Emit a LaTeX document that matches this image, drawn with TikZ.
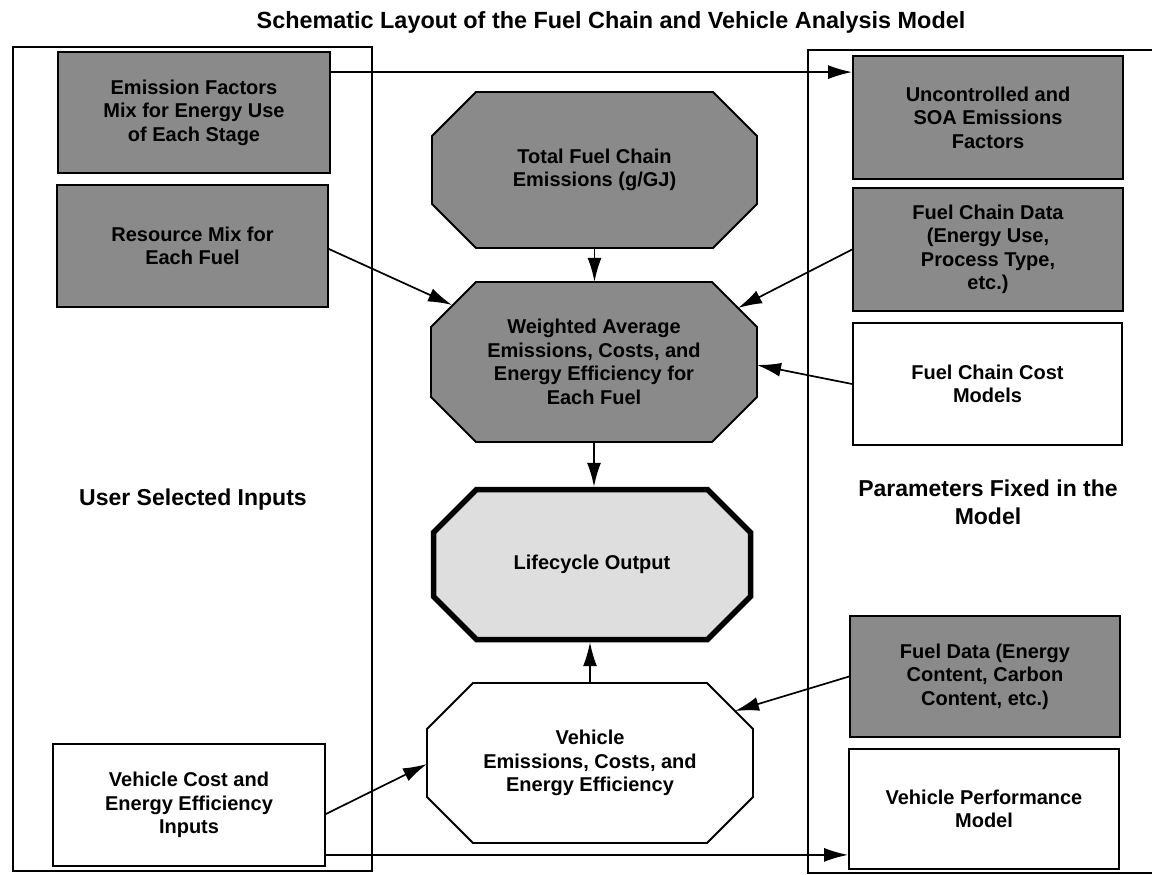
\documentclass[tikz,border=0pt]{standalone}
\usepackage{fontspec}
\setmainfont{Liberation Sans}
\usetikzlibrary{arrows.meta,calc}
\definecolor{dk}{RGB}{138,138,138}
\definecolor{lt}{RGB}{222,222,222}
% octagon: x1,y1,x2,y2,cut,style
\newcommand\octa[6]{%
  \draw[#6] (#1+#5,#2) -- (#3-#5,#2) -- (#3,#2+#5) -- (#3,#4-#5) -- (#3-#5,#4) -- (#1+#5,#4) -- (#1,#4-#5) -- (#1,#2+#5) -- cycle;}
\begin{document}
\begin{tikzpicture}[x=1pt,y=-1pt,
  box/.style={draw=black, line width=1.8pt, rectangle, inner sep=0pt, align=center,
    font=\fontsize{20}{23.5}\selectfont\bfseries},
  darkbox/.style={box, fill=dk},
  whitebox/.style={box, fill=white},
  octlbl/.style={rectangle, inner sep=0pt, align=center, font=\fontsize{20}{23.5}\selectfont\bfseries},
  sidelbl/.style={inner sep=0pt, align=center, font=\fontsize{23}{27.6}\selectfont\bfseries},
  arr/.style={-{Latex[length=24pt,width=14pt]}, line width=1.7pt},
  framel/.style={line width=1.7pt},
  octd/.style={draw=black, line width=1.8pt, fill=dk},
  octw/.style={draw=black, line width=1.8pt, fill=white},
  octl/.style={draw=black, line width=5.5pt, fill=lt}]
\useasboundingbox (0,0) rectangle (1152,875);

% title
\node[inner sep=0pt, anchor=base, font=\fontsize{23.4}{28}\selectfont\bfseries] (title) at (611,29)
  {Schematic Layout of the Fuel Chain and Vehicle Analysis Model};

% frames
\draw[framel] (13,47) rectangle (372,871);
\draw[framel] (1160,50) -- (808,50) -- (808,873) -- (1160,873);

% left boxes
\node[darkbox, minimum width=272pt, minimum height=121pt] (EF) at (194,112.5)
  {Emission Factors\\Mix for Energy Use\\of Each Stage};
\node[darkbox, minimum width=271pt, minimum height=122pt] (RM) at (192.5,246)
  {Resource Mix for\\Each Fuel};
\node[whitebox, minimum width=272pt, minimum height=122pt] (VC) at (189,805)
  {Vehicle Cost and\\Energy Efficiency\\Inputs};

% right boxes
\node[darkbox, minimum width=270pt, minimum height=123pt] (UC) at (988,117.5)
  {Uncontrolled and\\SOA Emissions\\Factors};
\node[darkbox, minimum width=270pt, minimum height=123pt] (FCD) at (988,249.5)
  {Fuel Chain Data\\(Energy Use,\\Process Type,\\etc.)};
\node[whitebox, minimum width=269pt, minimum height=122pt] (FCC) at (987.5,384)
  {Fuel Chain Cost\\Models};
\node[darkbox, minimum width=270pt, minimum height=121pt] (FD) at (985,676.5)
  {Fuel Data (Energy\\Content, Carbon\\Content, etc.)};
\node[whitebox, minimum width=270pt, minimum height=120pt] (VP) at (984,809)
  {Vehicle Performance\\Model};

% side labels
\node[sidelbl, anchor=base] (usi) at (193,505) {User Selected Inputs};
\node[sidelbl, anchor=north] (pfm) at (988,480) {Parameters Fixed in the\\Model};

% octagons
\octa{432}{92}{757}{248}{44}{octd}
\node[octlbl, minimum width=325pt, minimum height=156pt] (TFC) at (594.5,170)
  {Total Fuel Chain\\Emissions (g/GJ)};
\octa{431}{282}{757}{442}{45}{octd}
\node[octlbl, minimum width=326pt, minimum height=160pt] (WA) at (594,362)
  {Weighted Average\\Emissions, Costs, and\\Energy Efficiency for\\Each Fuel};
\octa{433.5}{489.5}{750.5}{639.5}{43}{octl}
\node[octlbl, minimum width=322pt, minimum height=155pt] (LO) at (592,564.5)
  {Lifecycle Output};
\octa{427}{683}{753}{843}{46}{octw}
\node[octlbl, minimum width=326pt, minimum height=160pt] (VE) at (590,763)
  {Vehicle\\Emissions, Costs, and\\Energy Efficiency};

% arrow targets on octagon borders
\coordinate (wa-ul) at (452,305);
\coordinate (wa-ur) at (738,308);
\coordinate (wa-r) at (757,365);
\coordinate (ve-ur) at (735,711);
\coordinate (ve-l) at (427,764);

% connectors
\draw[arr] ([yshift=-21pt]EF.north east) -- ([yshift=-17pt]UC.north west);
\draw[arr] ([yshift=-3pt]RM.east) -- (wa-ul);
\draw[arr] (TFC.south) -- (TFC.south |- WA.north);
\draw[arr] (FCD.west) -- (wa-ur);
\draw[arr] (FCC.west) -- (wa-r);
\draw[arr] (WA.south) -- (WA.south |- LO.north);
\draw[arr] (VE.north) -- (VE.north |- LO.south);
\draw[arr] (FD.west) -- (ve-ur);
\draw[arr] ([yshift=-9pt]VC.east) -- (ve-l);
\draw[arr] ([yshift=12pt]VC.south east) -- ([yshift=15pt]VP.south west);
\end{tikzpicture}
\end{document}
